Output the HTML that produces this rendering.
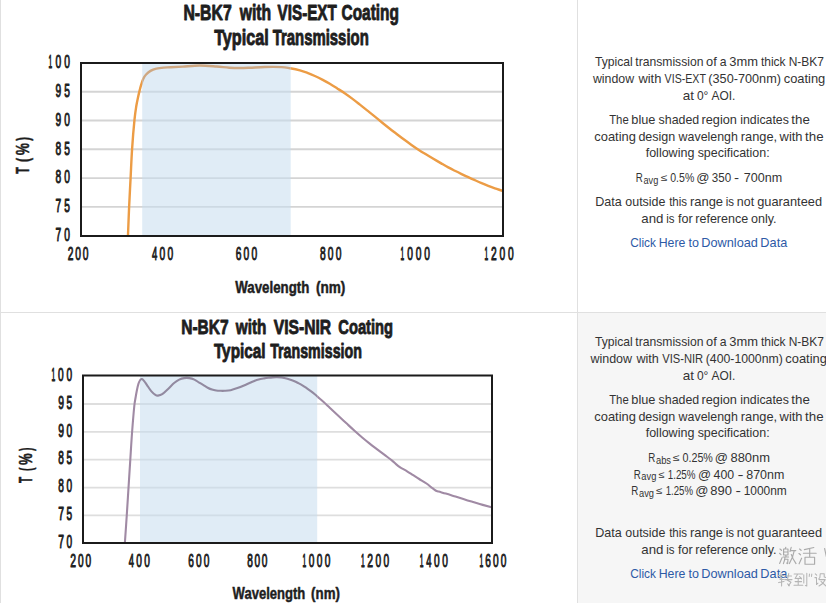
<!DOCTYPE html>
<html><head><meta charset="utf-8"><style>
html,body{margin:0;padding:0;background:#fff;}
body{width:826px;height:603px;overflow:hidden;position:relative;font-family:'Liberation Sans', sans-serif;}
svg{position:absolute;left:0;top:0;display:block;}
svg text{font-family:'Liberation Sans', sans-serif;}
</style></head><body>
<svg width="826" height="603" viewBox="0 0 826 603">
<rect x="578" y="313" width="248" height="290" fill="#f6f6f6"/>
<rect x="0" y="0" width="1" height="603" fill="#e0e0e0"/>
<rect x="577" y="0" width="1" height="603" fill="#e0e0e0"/>
<rect x="0" y="312" width="826" height="1" fill="#e0e0e0"/>
<clipPath id="cl1a"><rect x="81.00" y="63.00" width="61.20" height="173.00"/><rect x="290.70" y="63.00" width="212.30" height="173.00"/></clipPath>
<clipPath id="cl1b"><rect x="142.20" y="63.00" width="148.50" height="173.00"/></clipPath>
<line x1="81.00" x2="503.00" y1="91.70" y2="91.70" stroke="#d4d4d4" stroke-width="1.9"/>
<line x1="81.00" x2="503.00" y1="120.50" y2="120.50" stroke="#d4d4d4" stroke-width="1.9"/>
<line x1="81.00" x2="503.00" y1="149.30" y2="149.30" stroke="#d4d4d4" stroke-width="1.9"/>
<line x1="81.00" x2="503.00" y1="178.10" y2="178.10" stroke="#d4d4d4" stroke-width="1.9"/>
<line x1="81.00" x2="503.00" y1="206.85" y2="206.85" stroke="#d4d4d4" stroke-width="1.9"/>
<rect x="142.20" y="63.00" width="148.50" height="173.00" fill="#c7ddef" fill-opacity="0.55"/>
<path clip-path="url(#cl1a)" d="M127.80 240.00 C127.83 239.17 127.78 240.43 128.00 235.00 C128.22 229.57 128.67 216.92 129.10 207.40 C129.53 197.88 130.10 187.67 130.60 177.90 C131.10 168.13 131.45 158.50 132.10 148.80 C132.75 139.10 133.78 126.92 134.50 119.70 C135.22 112.48 135.80 109.28 136.40 105.50 C137.00 101.72 137.60 99.35 138.10 97.00 C138.60 94.65 138.88 93.45 139.40 91.40 C139.92 89.35 140.57 86.78 141.20 84.70 C141.83 82.62 142.38 80.60 143.20 78.90 C144.02 77.20 144.88 75.83 146.10 74.50 C147.32 73.17 148.80 71.87 150.50 70.90 C152.20 69.93 154.12 69.25 156.30 68.70 C158.48 68.15 161.18 67.83 163.60 67.60 C166.02 67.37 167.62 67.47 170.80 67.30 C173.98 67.13 177.88 66.90 182.70 66.60 C187.52 66.30 194.05 65.52 199.70 65.50 C205.35 65.48 211.67 66.13 216.60 66.50 C221.53 66.87 225.40 67.45 229.30 67.70 C233.20 67.95 236.55 68.00 240.00 68.00 C243.45 68.00 245.88 67.87 250.00 67.70 C254.12 67.53 259.43 67.10 264.70 67.00 C269.97 66.90 277.38 66.88 281.60 67.10 C285.82 67.32 286.95 67.75 290.00 68.30 C293.05 68.85 297.00 69.63 299.90 70.40 C302.80 71.17 304.90 71.97 307.40 72.90 C309.90 73.83 312.42 74.88 314.90 76.00 C317.38 77.12 319.82 78.30 322.30 79.60 C324.78 80.90 327.32 82.33 329.80 83.80 C332.28 85.27 334.72 86.83 337.20 88.40 C339.68 89.97 342.20 91.50 344.70 93.20 C347.20 94.90 349.72 96.73 352.20 98.60 C354.68 100.47 357.12 102.43 359.60 104.40 C362.08 106.37 364.60 108.40 367.10 110.40 C369.60 112.40 372.12 114.38 374.60 116.40 C377.08 118.42 379.52 120.48 382.00 122.50 C384.48 124.52 387.00 126.55 389.50 128.50 C392.00 130.45 394.52 132.32 397.00 134.20 C399.48 136.08 401.98 138.02 404.40 139.80 C406.82 141.58 409.15 143.25 411.50 144.90 C413.85 146.55 416.17 148.17 418.50 149.70 C420.83 151.23 423.17 152.67 425.50 154.10 C427.83 155.53 429.82 156.72 432.50 158.30 C435.18 159.88 438.97 162.08 441.60 163.60 C444.23 165.12 446.08 166.20 448.30 167.40 C450.52 168.60 452.68 169.68 454.90 170.80 C457.12 171.92 459.38 173.03 461.60 174.10 C463.82 175.17 465.98 176.18 468.20 177.20 C470.42 178.22 472.67 179.22 474.90 180.20 C477.13 181.18 479.38 182.17 481.60 183.10 C483.82 184.03 485.98 184.93 488.20 185.80 C490.42 186.67 492.68 187.52 494.90 188.30 C497.12 189.08 499.82 189.93 501.50 190.50 C503.18 191.07 504.42 191.50 505.00 191.70" fill="none" stroke="#ec9c45" stroke-width="2.4" stroke-linejoin="round"/>
<path clip-path="url(#cl1b)" d="M127.80 240.00 C127.83 239.17 127.78 240.43 128.00 235.00 C128.22 229.57 128.67 216.92 129.10 207.40 C129.53 197.88 130.10 187.67 130.60 177.90 C131.10 168.13 131.45 158.50 132.10 148.80 C132.75 139.10 133.78 126.92 134.50 119.70 C135.22 112.48 135.80 109.28 136.40 105.50 C137.00 101.72 137.60 99.35 138.10 97.00 C138.60 94.65 138.88 93.45 139.40 91.40 C139.92 89.35 140.57 86.78 141.20 84.70 C141.83 82.62 142.38 80.60 143.20 78.90 C144.02 77.20 144.88 75.83 146.10 74.50 C147.32 73.17 148.80 71.87 150.50 70.90 C152.20 69.93 154.12 69.25 156.30 68.70 C158.48 68.15 161.18 67.83 163.60 67.60 C166.02 67.37 167.62 67.47 170.80 67.30 C173.98 67.13 177.88 66.90 182.70 66.60 C187.52 66.30 194.05 65.52 199.70 65.50 C205.35 65.48 211.67 66.13 216.60 66.50 C221.53 66.87 225.40 67.45 229.30 67.70 C233.20 67.95 236.55 68.00 240.00 68.00 C243.45 68.00 245.88 67.87 250.00 67.70 C254.12 67.53 259.43 67.10 264.70 67.00 C269.97 66.90 277.38 66.88 281.60 67.10 C285.82 67.32 286.95 67.75 290.00 68.30 C293.05 68.85 297.00 69.63 299.90 70.40 C302.80 71.17 304.90 71.97 307.40 72.90 C309.90 73.83 312.42 74.88 314.90 76.00 C317.38 77.12 319.82 78.30 322.30 79.60 C324.78 80.90 327.32 82.33 329.80 83.80 C332.28 85.27 334.72 86.83 337.20 88.40 C339.68 89.97 342.20 91.50 344.70 93.20 C347.20 94.90 349.72 96.73 352.20 98.60 C354.68 100.47 357.12 102.43 359.60 104.40 C362.08 106.37 364.60 108.40 367.10 110.40 C369.60 112.40 372.12 114.38 374.60 116.40 C377.08 118.42 379.52 120.48 382.00 122.50 C384.48 124.52 387.00 126.55 389.50 128.50 C392.00 130.45 394.52 132.32 397.00 134.20 C399.48 136.08 401.98 138.02 404.40 139.80 C406.82 141.58 409.15 143.25 411.50 144.90 C413.85 146.55 416.17 148.17 418.50 149.70 C420.83 151.23 423.17 152.67 425.50 154.10 C427.83 155.53 429.82 156.72 432.50 158.30 C435.18 159.88 438.97 162.08 441.60 163.60 C444.23 165.12 446.08 166.20 448.30 167.40 C450.52 168.60 452.68 169.68 454.90 170.80 C457.12 171.92 459.38 173.03 461.60 174.10 C463.82 175.17 465.98 176.18 468.20 177.20 C470.42 178.22 472.67 179.22 474.90 180.20 C477.13 181.18 479.38 182.17 481.60 183.10 C483.82 184.03 485.98 184.93 488.20 185.80 C490.42 186.67 492.68 187.52 494.90 188.30 C497.12 189.08 499.82 189.93 501.50 190.50 C503.18 191.07 504.42 191.50 505.00 191.70" fill="none" stroke="#cfa882" stroke-width="2.4" stroke-linejoin="round"/>
<rect x="81.00" y="63.00" width="422.00" height="173.00" fill="none" stroke="#1b1b1b" stroke-width="2"/>
<clipPath id="cl2a"><rect x="83.00" y="375.50" width="57.00" height="167.50"/><rect x="317.20" y="375.50" width="174.80" height="167.50"/></clipPath>
<clipPath id="cl2b"><rect x="140.00" y="375.50" width="177.20" height="167.50"/></clipPath>
<line x1="83.00" x2="492.00" y1="404.00" y2="404.00" stroke="#dedede" stroke-width="1.8"/>
<line x1="83.00" x2="492.00" y1="431.85" y2="431.85" stroke="#dedede" stroke-width="1.8"/>
<line x1="83.00" x2="492.00" y1="459.70" y2="459.70" stroke="#dedede" stroke-width="1.8"/>
<line x1="83.00" x2="492.00" y1="487.55" y2="487.55" stroke="#dedede" stroke-width="1.8"/>
<line x1="83.00" x2="492.00" y1="515.40" y2="515.40" stroke="#dedede" stroke-width="1.8"/>
<rect x="140.00" y="375.50" width="177.20" height="167.50" fill="#c7ddef" fill-opacity="0.55"/>
<path clip-path="url(#cl2a)" d="M124.60 546.00 C124.65 545.42 124.55 547.45 124.90 542.50 C125.25 537.55 126.10 525.40 126.70 516.30 C127.30 507.20 127.90 497.35 128.50 487.90 C129.10 478.45 129.70 468.92 130.30 459.60 C130.90 450.28 131.43 440.93 132.10 432.00 C132.77 423.07 133.72 411.75 134.30 406.00 C134.88 400.25 135.17 400.13 135.60 397.50 C136.03 394.87 136.42 392.52 136.90 390.20 C137.38 387.88 137.95 385.30 138.50 383.60 C139.05 381.90 139.63 380.77 140.20 380.00 C140.77 379.23 141.20 378.78 141.90 379.00 C142.60 379.22 143.55 380.28 144.40 381.30 C145.25 382.32 145.87 383.47 147.00 385.10 C148.13 386.73 149.80 389.47 151.20 391.10 C152.60 392.73 154.27 394.15 155.40 394.90 C156.53 395.65 156.87 395.72 158.00 395.60 C159.13 395.48 160.52 395.32 162.20 394.20 C163.88 393.08 166.12 390.77 168.10 388.90 C170.08 387.03 172.25 384.55 174.10 383.00 C175.95 381.45 177.52 380.42 179.20 379.60 C180.88 378.78 182.52 378.35 184.20 378.10 C185.88 377.85 187.60 377.85 189.30 378.10 C191.00 378.35 192.75 378.85 194.40 379.60 C196.05 380.35 197.68 381.68 199.20 382.60 C200.72 383.52 202.08 384.25 203.50 385.10 C204.92 385.95 206.28 386.95 207.70 387.70 C209.12 388.45 210.58 389.13 212.00 389.60 C213.42 390.07 214.80 390.30 216.20 390.50 C217.60 390.70 218.98 390.75 220.40 390.80 C221.82 390.85 223.00 390.90 224.70 390.80 C226.40 390.70 228.48 390.65 230.60 390.20 C232.72 389.75 234.87 389.02 237.40 388.10 C239.93 387.18 242.98 385.90 245.80 384.70 C248.62 383.50 251.85 381.83 254.30 380.90 C256.75 379.97 258.85 379.52 260.50 379.10 C262.15 378.68 262.87 378.62 264.20 378.40 C265.53 378.18 267.08 377.97 268.50 377.80 C269.92 377.63 271.30 377.48 272.70 377.40 C274.10 377.32 275.48 377.28 276.90 377.30 C278.32 377.32 279.78 377.33 281.20 377.50 C282.62 377.67 283.98 377.97 285.40 378.30 C286.82 378.63 288.28 379.05 289.70 379.50 C291.12 379.95 292.50 380.42 293.90 381.00 C295.30 381.58 296.68 382.28 298.10 383.00 C299.52 383.72 300.98 384.45 302.40 385.30 C303.82 386.15 305.20 387.13 306.60 388.10 C308.00 389.07 309.38 390.03 310.80 391.10 C312.22 392.17 313.68 393.30 315.10 394.50 C316.52 395.70 317.78 396.97 319.30 398.30 C320.82 399.63 322.67 401.12 324.20 402.50 C325.73 403.88 327.13 405.30 328.50 406.60 C329.87 407.90 330.50 408.53 332.40 410.30 C334.30 412.07 337.42 414.90 339.90 417.20 C342.38 419.50 344.82 421.80 347.30 424.10 C349.78 426.40 352.32 428.77 354.80 431.00 C357.28 433.23 359.72 435.40 362.20 437.50 C364.68 439.60 367.20 441.63 369.70 443.60 C372.20 445.57 374.72 447.42 377.20 449.30 C379.68 451.18 382.12 453.02 384.60 454.90 C387.08 456.78 390.20 459.07 392.10 460.60 C394.00 462.13 394.72 463.02 396.00 464.10 C397.28 465.18 398.75 466.35 399.80 467.10 C400.85 467.85 401.08 467.90 402.30 468.60 C403.52 469.30 405.28 470.20 407.10 471.30 C408.92 472.40 411.18 473.92 413.20 475.20 C415.22 476.48 416.98 477.62 419.20 479.00 C421.42 480.38 424.48 482.12 426.50 483.50 C428.52 484.88 429.78 486.13 431.30 487.30 C432.82 488.47 434.38 489.78 435.60 490.50 C436.82 491.22 436.90 491.08 438.60 491.60 C440.30 492.12 442.98 492.77 445.80 493.60 C448.62 494.43 451.87 495.47 455.50 496.60 C459.13 497.73 463.57 499.17 467.60 500.40 C471.63 501.63 475.87 502.88 479.70 504.00 C483.53 505.12 488.05 506.38 490.60 507.10 C493.15 507.82 494.27 508.10 495.00 508.30" fill="none" stroke="#a08aa4" stroke-width="2.1" stroke-linejoin="round"/>
<path clip-path="url(#cl2b)" d="M124.60 546.00 C124.65 545.42 124.55 547.45 124.90 542.50 C125.25 537.55 126.10 525.40 126.70 516.30 C127.30 507.20 127.90 497.35 128.50 487.90 C129.10 478.45 129.70 468.92 130.30 459.60 C130.90 450.28 131.43 440.93 132.10 432.00 C132.77 423.07 133.72 411.75 134.30 406.00 C134.88 400.25 135.17 400.13 135.60 397.50 C136.03 394.87 136.42 392.52 136.90 390.20 C137.38 387.88 137.95 385.30 138.50 383.60 C139.05 381.90 139.63 380.77 140.20 380.00 C140.77 379.23 141.20 378.78 141.90 379.00 C142.60 379.22 143.55 380.28 144.40 381.30 C145.25 382.32 145.87 383.47 147.00 385.10 C148.13 386.73 149.80 389.47 151.20 391.10 C152.60 392.73 154.27 394.15 155.40 394.90 C156.53 395.65 156.87 395.72 158.00 395.60 C159.13 395.48 160.52 395.32 162.20 394.20 C163.88 393.08 166.12 390.77 168.10 388.90 C170.08 387.03 172.25 384.55 174.10 383.00 C175.95 381.45 177.52 380.42 179.20 379.60 C180.88 378.78 182.52 378.35 184.20 378.10 C185.88 377.85 187.60 377.85 189.30 378.10 C191.00 378.35 192.75 378.85 194.40 379.60 C196.05 380.35 197.68 381.68 199.20 382.60 C200.72 383.52 202.08 384.25 203.50 385.10 C204.92 385.95 206.28 386.95 207.70 387.70 C209.12 388.45 210.58 389.13 212.00 389.60 C213.42 390.07 214.80 390.30 216.20 390.50 C217.60 390.70 218.98 390.75 220.40 390.80 C221.82 390.85 223.00 390.90 224.70 390.80 C226.40 390.70 228.48 390.65 230.60 390.20 C232.72 389.75 234.87 389.02 237.40 388.10 C239.93 387.18 242.98 385.90 245.80 384.70 C248.62 383.50 251.85 381.83 254.30 380.90 C256.75 379.97 258.85 379.52 260.50 379.10 C262.15 378.68 262.87 378.62 264.20 378.40 C265.53 378.18 267.08 377.97 268.50 377.80 C269.92 377.63 271.30 377.48 272.70 377.40 C274.10 377.32 275.48 377.28 276.90 377.30 C278.32 377.32 279.78 377.33 281.20 377.50 C282.62 377.67 283.98 377.97 285.40 378.30 C286.82 378.63 288.28 379.05 289.70 379.50 C291.12 379.95 292.50 380.42 293.90 381.00 C295.30 381.58 296.68 382.28 298.10 383.00 C299.52 383.72 300.98 384.45 302.40 385.30 C303.82 386.15 305.20 387.13 306.60 388.10 C308.00 389.07 309.38 390.03 310.80 391.10 C312.22 392.17 313.68 393.30 315.10 394.50 C316.52 395.70 317.78 396.97 319.30 398.30 C320.82 399.63 322.67 401.12 324.20 402.50 C325.73 403.88 327.13 405.30 328.50 406.60 C329.87 407.90 330.50 408.53 332.40 410.30 C334.30 412.07 337.42 414.90 339.90 417.20 C342.38 419.50 344.82 421.80 347.30 424.10 C349.78 426.40 352.32 428.77 354.80 431.00 C357.28 433.23 359.72 435.40 362.20 437.50 C364.68 439.60 367.20 441.63 369.70 443.60 C372.20 445.57 374.72 447.42 377.20 449.30 C379.68 451.18 382.12 453.02 384.60 454.90 C387.08 456.78 390.20 459.07 392.10 460.60 C394.00 462.13 394.72 463.02 396.00 464.10 C397.28 465.18 398.75 466.35 399.80 467.10 C400.85 467.85 401.08 467.90 402.30 468.60 C403.52 469.30 405.28 470.20 407.10 471.30 C408.92 472.40 411.18 473.92 413.20 475.20 C415.22 476.48 416.98 477.62 419.20 479.00 C421.42 480.38 424.48 482.12 426.50 483.50 C428.52 484.88 429.78 486.13 431.30 487.30 C432.82 488.47 434.38 489.78 435.60 490.50 C436.82 491.22 436.90 491.08 438.60 491.60 C440.30 492.12 442.98 492.77 445.80 493.60 C448.62 494.43 451.87 495.47 455.50 496.60 C459.13 497.73 463.57 499.17 467.60 500.40 C471.63 501.63 475.87 502.88 479.70 504.00 C483.53 505.12 488.05 506.38 490.60 507.10 C493.15 507.82 494.27 508.10 495.00 508.30" fill="none" stroke="#928aa0" stroke-width="2.1" stroke-linejoin="round"/>
<rect x="83.00" y="375.50" width="409.00" height="167.50" fill="none" stroke="#1b1b1b" stroke-width="2"/>
<text x="183.47" y="19.80" font-size="21.6" font-weight="bold" fill="#1e1e1e" stroke="#1e1e1e" stroke-width="0.9" stroke-linejoin="round" textLength="48.18" lengthAdjust="spacingAndGlyphs">N-BK7</text>
<text x="239.66" y="19.80" font-size="21.6" font-weight="bold" fill="#1e1e1e" stroke="#1e1e1e" stroke-width="0.9" stroke-linejoin="round" textLength="31.52" lengthAdjust="spacingAndGlyphs">with</text>
<text x="277.58" y="19.80" font-size="21.6" font-weight="bold" fill="#1e1e1e" stroke="#1e1e1e" stroke-width="0.9" stroke-linejoin="round" textLength="59.25" lengthAdjust="spacingAndGlyphs">VIS-EXT</text>
<text x="341.54" y="19.80" font-size="21.6" font-weight="bold" fill="#1e1e1e" stroke="#1e1e1e" stroke-width="0.9" stroke-linejoin="round" textLength="57.38" lengthAdjust="spacingAndGlyphs">Coating</text>
<text x="214.19" y="44.90" font-size="21.6" font-weight="bold" fill="#1e1e1e" stroke="#1e1e1e" stroke-width="0.9" stroke-linejoin="round" textLength="54.51" lengthAdjust="spacingAndGlyphs">Typical</text>
<text x="272.67" y="44.90" font-size="21.6" font-weight="bold" fill="#1e1e1e" stroke="#1e1e1e" stroke-width="0.9" stroke-linejoin="round" textLength="96.10" lengthAdjust="spacingAndGlyphs">Transmission</text>
<text x="181.26" y="333.80" font-size="21.0" font-weight="bold" fill="#1e1e1e" stroke="#1e1e1e" stroke-width="0.9" stroke-linejoin="round" textLength="47.35" lengthAdjust="spacingAndGlyphs">N-BK7</text>
<text x="235.86" y="333.80" font-size="21.0" font-weight="bold" fill="#1e1e1e" stroke="#1e1e1e" stroke-width="0.9" stroke-linejoin="round" textLength="30.58" lengthAdjust="spacingAndGlyphs">with</text>
<text x="273.69" y="333.80" font-size="21.0" font-weight="bold" fill="#1e1e1e" stroke="#1e1e1e" stroke-width="0.9" stroke-linejoin="round" textLength="57.43" lengthAdjust="spacingAndGlyphs">VIS-NIR</text>
<text x="338.32" y="333.80" font-size="21.0" font-weight="bold" fill="#1e1e1e" stroke="#1e1e1e" stroke-width="0.9" stroke-linejoin="round" textLength="54.71" lengthAdjust="spacingAndGlyphs">Coating</text>
<text x="213.88" y="358.30" font-size="21.0" font-weight="bold" fill="#1e1e1e" stroke="#1e1e1e" stroke-width="0.9" stroke-linejoin="round" textLength="51.69" lengthAdjust="spacingAndGlyphs">Typical</text>
<text x="270.17" y="358.30" font-size="21.0" font-weight="bold" fill="#1e1e1e" stroke="#1e1e1e" stroke-width="0.9" stroke-linejoin="round" textLength="91.73" lengthAdjust="spacingAndGlyphs">Transmission</text>
<text x="235.30" y="293.15" font-size="16.8" font-weight="bold" fill="#1e1e1e" stroke="#1e1e1e" stroke-width="0.5" stroke-linejoin="round" textLength="74.05" lengthAdjust="spacingAndGlyphs">Wavelength</text>
<text x="315.89" y="293.15" font-size="16.8" font-weight="bold" fill="#1e1e1e" stroke="#1e1e1e" stroke-width="0.5" stroke-linejoin="round" textLength="29.50" lengthAdjust="spacingAndGlyphs">(nm)</text>
<text x="232.59" y="599.15" font-size="17.0" font-weight="bold" fill="#1e1e1e" stroke="#1e1e1e" stroke-width="0.5" stroke-linejoin="round" textLength="72.71" lengthAdjust="spacingAndGlyphs">Wavelength</text>
<text x="311.11" y="599.15" font-size="17.0" font-weight="bold" fill="#1e1e1e" stroke="#1e1e1e" stroke-width="0.5" stroke-linejoin="round" textLength="28.84" lengthAdjust="spacingAndGlyphs">(nm)</text>
<text x="-173.80" y="0.00" font-size="18.0" font-weight="bold" fill="#1e1e1e" stroke="#1e1e1e" stroke-width="0.5" stroke-linejoin="round" textLength="6.70" lengthAdjust="spacingAndGlyphs" transform="translate(28.65,0.00) rotate(-90)">T</text>
<text x="-161.94" y="0.00" font-size="18.0" font-weight="bold" fill="#1e1e1e" stroke="#1e1e1e" stroke-width="0.5" stroke-linejoin="round" textLength="4.07" lengthAdjust="spacingAndGlyphs" transform="translate(28.65,0.00) rotate(-90)">(</text>
<text x="-155.29" y="0.00" font-size="18.0" font-weight="bold" fill="#1e1e1e" stroke="#1e1e1e" stroke-width="0.5" stroke-linejoin="round" textLength="12.19" lengthAdjust="spacingAndGlyphs" transform="translate(28.65,0.00) rotate(-90)">%</text>
<text x="-140.84" y="0.00" font-size="18.0" font-weight="bold" fill="#1e1e1e" stroke="#1e1e1e" stroke-width="0.5" stroke-linejoin="round" textLength="3.76" lengthAdjust="spacingAndGlyphs" transform="translate(28.65,0.00) rotate(-90)">)</text>
<text x="-483.10" y="0.00" font-size="17.5" font-weight="bold" fill="#1e1e1e" stroke="#1e1e1e" stroke-width="0.5" stroke-linejoin="round" textLength="6.17" lengthAdjust="spacingAndGlyphs" transform="translate(32.45,0.00) rotate(-90)">T</text>
<text x="-471.00" y="0.00" font-size="17.5" font-weight="bold" fill="#1e1e1e" stroke="#1e1e1e" stroke-width="0.5" stroke-linejoin="round" textLength="3.50" lengthAdjust="spacingAndGlyphs" transform="translate(32.45,0.00) rotate(-90)">(</text>
<text x="-464.90" y="0.00" font-size="17.5" font-weight="bold" fill="#1e1e1e" stroke="#1e1e1e" stroke-width="0.5" stroke-linejoin="round" textLength="11.65" lengthAdjust="spacingAndGlyphs" transform="translate(32.45,0.00) rotate(-90)">%</text>
<text x="-451.05" y="0.00" font-size="17.5" font-weight="bold" fill="#1e1e1e" stroke="#1e1e1e" stroke-width="0.5" stroke-linejoin="round" textLength="3.50" lengthAdjust="spacingAndGlyphs" transform="translate(32.45,0.00) rotate(-90)">)</text>
<text x="48.52" y="68.40" font-size="18" font-weight="normal" fill="#222" stroke="#222" stroke-width="1.0" stroke-linejoin="round" textLength="3.67" lengthAdjust="spacingAndGlyphs">1</text>
<text x="55.46" y="68.40" font-size="18" font-weight="normal" fill="#222" stroke="#222" stroke-width="1.0" stroke-linejoin="round" textLength="5.69" lengthAdjust="spacingAndGlyphs">0</text>
<text x="64.36" y="68.40" font-size="18" font-weight="normal" fill="#222" stroke="#222" stroke-width="1.0" stroke-linejoin="round" textLength="5.69" lengthAdjust="spacingAndGlyphs">0</text>
<text x="55.46" y="97.10" font-size="18" font-weight="normal" fill="#222" stroke="#222" stroke-width="1.0" stroke-linejoin="round" textLength="5.69" lengthAdjust="spacingAndGlyphs">9</text>
<text x="64.26" y="97.10" font-size="18" font-weight="normal" fill="#222" stroke="#222" stroke-width="1.0" stroke-linejoin="round" textLength="5.69" lengthAdjust="spacingAndGlyphs">5</text>
<text x="55.46" y="125.80" font-size="18" font-weight="normal" fill="#222" stroke="#222" stroke-width="1.0" stroke-linejoin="round" textLength="5.69" lengthAdjust="spacingAndGlyphs">9</text>
<text x="64.26" y="125.80" font-size="18" font-weight="normal" fill="#222" stroke="#222" stroke-width="1.0" stroke-linejoin="round" textLength="5.69" lengthAdjust="spacingAndGlyphs">0</text>
<text x="55.46" y="154.50" font-size="18" font-weight="normal" fill="#222" stroke="#222" stroke-width="1.0" stroke-linejoin="round" textLength="5.69" lengthAdjust="spacingAndGlyphs">8</text>
<text x="64.26" y="154.50" font-size="18" font-weight="normal" fill="#222" stroke="#222" stroke-width="1.0" stroke-linejoin="round" textLength="5.69" lengthAdjust="spacingAndGlyphs">5</text>
<text x="55.46" y="183.20" font-size="18" font-weight="normal" fill="#222" stroke="#222" stroke-width="1.0" stroke-linejoin="round" textLength="5.69" lengthAdjust="spacingAndGlyphs">8</text>
<text x="64.26" y="183.20" font-size="18" font-weight="normal" fill="#222" stroke="#222" stroke-width="1.0" stroke-linejoin="round" textLength="5.69" lengthAdjust="spacingAndGlyphs">0</text>
<text x="55.46" y="211.90" font-size="18" font-weight="normal" fill="#222" stroke="#222" stroke-width="1.0" stroke-linejoin="round" textLength="5.69" lengthAdjust="spacingAndGlyphs">7</text>
<text x="64.26" y="211.90" font-size="18" font-weight="normal" fill="#222" stroke="#222" stroke-width="1.0" stroke-linejoin="round" textLength="5.69" lengthAdjust="spacingAndGlyphs">5</text>
<text x="55.46" y="240.60" font-size="18" font-weight="normal" fill="#222" stroke="#222" stroke-width="1.0" stroke-linejoin="round" textLength="5.69" lengthAdjust="spacingAndGlyphs">7</text>
<text x="64.26" y="240.60" font-size="18" font-weight="normal" fill="#222" stroke="#222" stroke-width="1.0" stroke-linejoin="round" textLength="5.69" lengthAdjust="spacingAndGlyphs">0</text>
<text x="51.52" y="381.00" font-size="17.8" font-weight="normal" fill="#222" stroke="#222" stroke-width="1.0" stroke-linejoin="round" textLength="3.73" lengthAdjust="spacingAndGlyphs">1</text>
<text x="58.01" y="381.00" font-size="17.8" font-weight="normal" fill="#222" stroke="#222" stroke-width="1.0" stroke-linejoin="round" textLength="5.62" lengthAdjust="spacingAndGlyphs">0</text>
<text x="66.46" y="381.00" font-size="17.8" font-weight="normal" fill="#222" stroke="#222" stroke-width="1.0" stroke-linejoin="round" textLength="5.62" lengthAdjust="spacingAndGlyphs">0</text>
<text x="58.15" y="408.77" font-size="17.8" font-weight="normal" fill="#222" stroke="#222" stroke-width="1.0" stroke-linejoin="round" textLength="5.77" lengthAdjust="spacingAndGlyphs">9</text>
<text x="66.46" y="408.77" font-size="17.8" font-weight="normal" fill="#222" stroke="#222" stroke-width="1.0" stroke-linejoin="round" textLength="5.62" lengthAdjust="spacingAndGlyphs">5</text>
<text x="58.15" y="436.54" font-size="17.8" font-weight="normal" fill="#222" stroke="#222" stroke-width="1.0" stroke-linejoin="round" textLength="5.77" lengthAdjust="spacingAndGlyphs">9</text>
<text x="66.46" y="436.54" font-size="17.8" font-weight="normal" fill="#222" stroke="#222" stroke-width="1.0" stroke-linejoin="round" textLength="5.62" lengthAdjust="spacingAndGlyphs">0</text>
<text x="58.16" y="464.31" font-size="17.8" font-weight="normal" fill="#222" stroke="#222" stroke-width="1.0" stroke-linejoin="round" textLength="5.62" lengthAdjust="spacingAndGlyphs">8</text>
<text x="66.46" y="464.31" font-size="17.8" font-weight="normal" fill="#222" stroke="#222" stroke-width="1.0" stroke-linejoin="round" textLength="5.62" lengthAdjust="spacingAndGlyphs">5</text>
<text x="58.16" y="492.08" font-size="17.8" font-weight="normal" fill="#222" stroke="#222" stroke-width="1.0" stroke-linejoin="round" textLength="5.62" lengthAdjust="spacingAndGlyphs">8</text>
<text x="66.46" y="492.08" font-size="17.8" font-weight="normal" fill="#222" stroke="#222" stroke-width="1.0" stroke-linejoin="round" textLength="5.62" lengthAdjust="spacingAndGlyphs">0</text>
<text x="58.15" y="519.85" font-size="17.8" font-weight="normal" fill="#222" stroke="#222" stroke-width="1.0" stroke-linejoin="round" textLength="5.77" lengthAdjust="spacingAndGlyphs">7</text>
<text x="66.46" y="519.85" font-size="17.8" font-weight="normal" fill="#222" stroke="#222" stroke-width="1.0" stroke-linejoin="round" textLength="5.62" lengthAdjust="spacingAndGlyphs">5</text>
<text x="58.15" y="547.62" font-size="17.8" font-weight="normal" fill="#222" stroke="#222" stroke-width="1.0" stroke-linejoin="round" textLength="5.77" lengthAdjust="spacingAndGlyphs">7</text>
<text x="66.46" y="547.62" font-size="17.8" font-weight="normal" fill="#222" stroke="#222" stroke-width="1.0" stroke-linejoin="round" textLength="5.62" lengthAdjust="spacingAndGlyphs">0</text>
<text x="67.86" y="259.90" font-size="18" font-weight="normal" fill="#222" stroke="#222" stroke-width="1.0" stroke-linejoin="round" textLength="5.69" lengthAdjust="spacingAndGlyphs">2</text>
<text x="75.31" y="259.90" font-size="18" font-weight="normal" fill="#222" stroke="#222" stroke-width="1.0" stroke-linejoin="round" textLength="5.69" lengthAdjust="spacingAndGlyphs">0</text>
<text x="82.76" y="259.90" font-size="18" font-weight="normal" fill="#222" stroke="#222" stroke-width="1.0" stroke-linejoin="round" textLength="5.69" lengthAdjust="spacingAndGlyphs">0</text>
<text x="151.93" y="259.90" font-size="18" font-weight="normal" fill="#222" stroke="#222" stroke-width="1.0" stroke-linejoin="round" textLength="5.28" lengthAdjust="spacingAndGlyphs">4</text>
<text x="159.56" y="259.90" font-size="18" font-weight="normal" fill="#222" stroke="#222" stroke-width="1.0" stroke-linejoin="round" textLength="5.69" lengthAdjust="spacingAndGlyphs">0</text>
<text x="167.46" y="259.90" font-size="18" font-weight="normal" fill="#222" stroke="#222" stroke-width="1.0" stroke-linejoin="round" textLength="5.69" lengthAdjust="spacingAndGlyphs">0</text>
<text x="235.76" y="259.90" font-size="18" font-weight="normal" fill="#222" stroke="#222" stroke-width="1.0" stroke-linejoin="round" textLength="5.69" lengthAdjust="spacingAndGlyphs">6</text>
<text x="243.61" y="259.90" font-size="18" font-weight="normal" fill="#222" stroke="#222" stroke-width="1.0" stroke-linejoin="round" textLength="5.69" lengthAdjust="spacingAndGlyphs">0</text>
<text x="251.46" y="259.90" font-size="18" font-weight="normal" fill="#222" stroke="#222" stroke-width="1.0" stroke-linejoin="round" textLength="5.69" lengthAdjust="spacingAndGlyphs">0</text>
<text x="320.06" y="259.90" font-size="18" font-weight="normal" fill="#222" stroke="#222" stroke-width="1.0" stroke-linejoin="round" textLength="5.69" lengthAdjust="spacingAndGlyphs">8</text>
<text x="327.86" y="259.90" font-size="18" font-weight="normal" fill="#222" stroke="#222" stroke-width="1.0" stroke-linejoin="round" textLength="5.69" lengthAdjust="spacingAndGlyphs">0</text>
<text x="335.66" y="259.90" font-size="18" font-weight="normal" fill="#222" stroke="#222" stroke-width="1.0" stroke-linejoin="round" textLength="5.69" lengthAdjust="spacingAndGlyphs">0</text>
<text x="400.62" y="259.90" font-size="18" font-weight="normal" fill="#222" stroke="#222" stroke-width="1.0" stroke-linejoin="round" textLength="3.67" lengthAdjust="spacingAndGlyphs">1</text>
<text x="407.19" y="259.90" font-size="18" font-weight="normal" fill="#222" stroke="#222" stroke-width="1.0" stroke-linejoin="round" textLength="5.69" lengthAdjust="spacingAndGlyphs">0</text>
<text x="415.72" y="259.90" font-size="18" font-weight="normal" fill="#222" stroke="#222" stroke-width="1.0" stroke-linejoin="round" textLength="5.69" lengthAdjust="spacingAndGlyphs">0</text>
<text x="424.26" y="259.90" font-size="18" font-weight="normal" fill="#222" stroke="#222" stroke-width="1.0" stroke-linejoin="round" textLength="5.69" lengthAdjust="spacingAndGlyphs">0</text>
<text x="484.62" y="259.90" font-size="18" font-weight="normal" fill="#222" stroke="#222" stroke-width="1.0" stroke-linejoin="round" textLength="3.67" lengthAdjust="spacingAndGlyphs">1</text>
<text x="491.12" y="259.90" font-size="18" font-weight="normal" fill="#222" stroke="#222" stroke-width="1.0" stroke-linejoin="round" textLength="5.69" lengthAdjust="spacingAndGlyphs">2</text>
<text x="499.59" y="259.90" font-size="18" font-weight="normal" fill="#222" stroke="#222" stroke-width="1.0" stroke-linejoin="round" textLength="5.69" lengthAdjust="spacingAndGlyphs">0</text>
<text x="508.06" y="259.90" font-size="18" font-weight="normal" fill="#222" stroke="#222" stroke-width="1.0" stroke-linejoin="round" textLength="5.69" lengthAdjust="spacingAndGlyphs">0</text>
<text x="70.35" y="567.10" font-size="17.8" font-weight="normal" fill="#222" stroke="#222" stroke-width="1.0" stroke-linejoin="round" textLength="5.77" lengthAdjust="spacingAndGlyphs">2</text>
<text x="77.91" y="567.10" font-size="17.8" font-weight="normal" fill="#222" stroke="#222" stroke-width="1.0" stroke-linejoin="round" textLength="5.62" lengthAdjust="spacingAndGlyphs">0</text>
<text x="85.46" y="567.10" font-size="17.8" font-weight="normal" fill="#222" stroke="#222" stroke-width="1.0" stroke-linejoin="round" textLength="5.62" lengthAdjust="spacingAndGlyphs">0</text>
<text x="128.73" y="567.10" font-size="17.8" font-weight="normal" fill="#222" stroke="#222" stroke-width="1.0" stroke-linejoin="round" textLength="5.21" lengthAdjust="spacingAndGlyphs">4</text>
<text x="136.36" y="567.10" font-size="17.8" font-weight="normal" fill="#222" stroke="#222" stroke-width="1.0" stroke-linejoin="round" textLength="5.62" lengthAdjust="spacingAndGlyphs">0</text>
<text x="144.26" y="567.10" font-size="17.8" font-weight="normal" fill="#222" stroke="#222" stroke-width="1.0" stroke-linejoin="round" textLength="5.62" lengthAdjust="spacingAndGlyphs">0</text>
<text x="188.36" y="567.10" font-size="17.8" font-weight="normal" fill="#222" stroke="#222" stroke-width="1.0" stroke-linejoin="round" textLength="5.62" lengthAdjust="spacingAndGlyphs">6</text>
<text x="196.01" y="567.10" font-size="17.8" font-weight="normal" fill="#222" stroke="#222" stroke-width="1.0" stroke-linejoin="round" textLength="5.62" lengthAdjust="spacingAndGlyphs">0</text>
<text x="203.66" y="567.10" font-size="17.8" font-weight="normal" fill="#222" stroke="#222" stroke-width="1.0" stroke-linejoin="round" textLength="5.62" lengthAdjust="spacingAndGlyphs">0</text>
<text x="247.26" y="567.10" font-size="17.8" font-weight="normal" fill="#222" stroke="#222" stroke-width="1.0" stroke-linejoin="round" textLength="5.62" lengthAdjust="spacingAndGlyphs">8</text>
<text x="254.56" y="567.10" font-size="17.8" font-weight="normal" fill="#222" stroke="#222" stroke-width="1.0" stroke-linejoin="round" textLength="5.62" lengthAdjust="spacingAndGlyphs">0</text>
<text x="261.86" y="567.10" font-size="17.8" font-weight="normal" fill="#222" stroke="#222" stroke-width="1.0" stroke-linejoin="round" textLength="5.62" lengthAdjust="spacingAndGlyphs">0</text>
<text x="302.62" y="567.10" font-size="17.8" font-weight="normal" fill="#222" stroke="#222" stroke-width="1.0" stroke-linejoin="round" textLength="3.73" lengthAdjust="spacingAndGlyphs">1</text>
<text x="308.66" y="567.10" font-size="17.8" font-weight="normal" fill="#222" stroke="#222" stroke-width="1.0" stroke-linejoin="round" textLength="5.62" lengthAdjust="spacingAndGlyphs">0</text>
<text x="316.66" y="567.10" font-size="17.8" font-weight="normal" fill="#222" stroke="#222" stroke-width="1.0" stroke-linejoin="round" textLength="5.62" lengthAdjust="spacingAndGlyphs">0</text>
<text x="324.66" y="567.10" font-size="17.8" font-weight="normal" fill="#222" stroke="#222" stroke-width="1.0" stroke-linejoin="round" textLength="5.62" lengthAdjust="spacingAndGlyphs">0</text>
<text x="361.02" y="567.10" font-size="17.8" font-weight="normal" fill="#222" stroke="#222" stroke-width="1.0" stroke-linejoin="round" textLength="3.73" lengthAdjust="spacingAndGlyphs">1</text>
<text x="367.22" y="567.10" font-size="17.8" font-weight="normal" fill="#222" stroke="#222" stroke-width="1.0" stroke-linejoin="round" textLength="5.77" lengthAdjust="spacingAndGlyphs">2</text>
<text x="375.39" y="567.10" font-size="17.8" font-weight="normal" fill="#222" stroke="#222" stroke-width="1.0" stroke-linejoin="round" textLength="5.62" lengthAdjust="spacingAndGlyphs">0</text>
<text x="383.56" y="567.10" font-size="17.8" font-weight="normal" fill="#222" stroke="#222" stroke-width="1.0" stroke-linejoin="round" textLength="5.62" lengthAdjust="spacingAndGlyphs">0</text>
<text x="419.72" y="567.10" font-size="17.8" font-weight="normal" fill="#222" stroke="#222" stroke-width="1.0" stroke-linejoin="round" textLength="3.73" lengthAdjust="spacingAndGlyphs">1</text>
<text x="426.20" y="567.10" font-size="17.8" font-weight="normal" fill="#222" stroke="#222" stroke-width="1.0" stroke-linejoin="round" textLength="5.21" lengthAdjust="spacingAndGlyphs">4</text>
<text x="434.09" y="567.10" font-size="17.8" font-weight="normal" fill="#222" stroke="#222" stroke-width="1.0" stroke-linejoin="round" textLength="5.62" lengthAdjust="spacingAndGlyphs">0</text>
<text x="442.26" y="567.10" font-size="17.8" font-weight="normal" fill="#222" stroke="#222" stroke-width="1.0" stroke-linejoin="round" textLength="5.62" lengthAdjust="spacingAndGlyphs">0</text>
<text x="479.42" y="567.10" font-size="17.8" font-weight="normal" fill="#222" stroke="#222" stroke-width="1.0" stroke-linejoin="round" textLength="3.73" lengthAdjust="spacingAndGlyphs">1</text>
<text x="485.26" y="567.10" font-size="17.8" font-weight="normal" fill="#222" stroke="#222" stroke-width="1.0" stroke-linejoin="round" textLength="5.62" lengthAdjust="spacingAndGlyphs">6</text>
<text x="493.06" y="567.10" font-size="17.8" font-weight="normal" fill="#222" stroke="#222" stroke-width="1.0" stroke-linejoin="round" textLength="5.62" lengthAdjust="spacingAndGlyphs">0</text>
<text x="500.86" y="567.10" font-size="17.8" font-weight="normal" fill="#222" stroke="#222" stroke-width="1.0" stroke-linejoin="round" textLength="5.62" lengthAdjust="spacingAndGlyphs">0</text>
<text x="595.06" y="65.70" font-size="12.6" font-weight="normal" fill="#333" textLength="37.72" lengthAdjust="spacingAndGlyphs">Typical</text>
<text x="635.26" y="65.70" font-size="12.6" font-weight="normal" fill="#333" textLength="68.20" lengthAdjust="spacingAndGlyphs">transmission</text>
<text x="706.09" y="65.70" font-size="12.6" font-weight="normal" fill="#333" textLength="10.73" lengthAdjust="spacingAndGlyphs">of</text>
<text x="719.72" y="65.70" font-size="12.6" font-weight="normal" fill="#333" textLength="6.80" lengthAdjust="spacingAndGlyphs">a</text>
<text x="729.39" y="65.70" font-size="12.6" font-weight="normal" fill="#333" textLength="28.68" lengthAdjust="spacingAndGlyphs">3mm</text>
<text x="760.96" y="65.70" font-size="12.6" font-weight="normal" fill="#333" textLength="24.65" lengthAdjust="spacingAndGlyphs">thick</text>
<text x="788.65" y="65.70" font-size="12.6" font-weight="normal" fill="#333" textLength="35.32" lengthAdjust="spacingAndGlyphs">N-BK7</text>
<text x="592.90" y="82.70" font-size="12.6" font-weight="normal" fill="#333" textLength="41.20" lengthAdjust="spacingAndGlyphs">window</text>
<text x="638.40" y="82.70" font-size="12.6" font-weight="normal" fill="#333" textLength="22.97" lengthAdjust="spacingAndGlyphs">with</text>
<text x="664.60" y="82.70" font-size="12.6" font-weight="normal" fill="#333" textLength="41.31" lengthAdjust="spacingAndGlyphs">VIS-EXT</text>
<text x="708.35" y="82.70" font-size="12.6" font-weight="normal" fill="#333" textLength="72.57" lengthAdjust="spacingAndGlyphs">(350-700nm)</text>
<text x="783.69" y="82.70" font-size="12.6" font-weight="normal" fill="#333" textLength="41.61" lengthAdjust="spacingAndGlyphs">coating</text>
<text x="682.87" y="99.60" font-size="12.6" font-weight="normal" fill="#333" textLength="11.25" lengthAdjust="spacingAndGlyphs">at</text>
<text x="696.93" y="99.60" font-size="12.6" font-weight="normal" fill="#333" textLength="11.43" lengthAdjust="spacingAndGlyphs">0°</text>
<text x="711.50" y="99.60" font-size="12.6" font-weight="normal" fill="#333" textLength="23.84" lengthAdjust="spacingAndGlyphs">AOI.</text>
<text x="609.17" y="123.60" font-size="12.6" font-weight="normal" fill="#333" textLength="19.53" lengthAdjust="spacingAndGlyphs">The</text>
<text x="631.34" y="123.60" font-size="12.6" font-weight="normal" fill="#333" textLength="24.13" lengthAdjust="spacingAndGlyphs">blue</text>
<text x="658.55" y="123.60" font-size="12.6" font-weight="normal" fill="#333" textLength="40.66" lengthAdjust="spacingAndGlyphs">shaded</text>
<text x="701.54" y="123.60" font-size="12.6" font-weight="normal" fill="#333" textLength="35.43" lengthAdjust="spacingAndGlyphs">region</text>
<text x="740.27" y="123.60" font-size="12.6" font-weight="normal" fill="#333" textLength="48.59" lengthAdjust="spacingAndGlyphs">indicates</text>
<text x="791.34" y="123.60" font-size="12.6" font-weight="normal" fill="#333" textLength="18.51" lengthAdjust="spacingAndGlyphs">the</text>
<text x="594.29" y="140.60" font-size="12.6" font-weight="normal" fill="#333" textLength="41.61" lengthAdjust="spacingAndGlyphs">coating</text>
<text x="638.40" y="140.60" font-size="12.6" font-weight="normal" fill="#333" textLength="36.92" lengthAdjust="spacingAndGlyphs">design</text>
<text x="678.60" y="140.60" font-size="12.6" font-weight="normal" fill="#333" textLength="59.31" lengthAdjust="spacingAndGlyphs">wavelengh</text>
<text x="740.84" y="140.60" font-size="12.6" font-weight="normal" fill="#333" textLength="36.30" lengthAdjust="spacingAndGlyphs">range,</text>
<text x="779.60" y="140.60" font-size="12.6" font-weight="normal" fill="#333" textLength="22.97" lengthAdjust="spacingAndGlyphs">with</text>
<text x="805.04" y="140.60" font-size="12.6" font-weight="normal" fill="#333" textLength="18.51" lengthAdjust="spacingAndGlyphs">the</text>
<text x="645.70" y="157.40" font-size="12.6" font-weight="normal" fill="#333" textLength="48.66" lengthAdjust="spacingAndGlyphs">following</text>
<text x="697.65" y="157.40" font-size="12.6" font-weight="normal" fill="#333" textLength="72.00" lengthAdjust="spacingAndGlyphs">specification:</text>
<text x="595.30" y="205.90" font-size="12.6" font-weight="normal" fill="#333" textLength="26.56" lengthAdjust="spacingAndGlyphs">Data</text>
<text x="625.31" y="205.90" font-size="12.6" font-weight="normal" fill="#333" textLength="40.17" lengthAdjust="spacingAndGlyphs">outside</text>
<text x="669.17" y="205.90" font-size="12.6" font-weight="normal" fill="#333" textLength="17.96" lengthAdjust="spacingAndGlyphs">this</text>
<text x="689.93" y="205.90" font-size="12.6" font-weight="normal" fill="#333" textLength="33.15" lengthAdjust="spacingAndGlyphs">range</text>
<text x="725.82" y="205.90" font-size="12.6" font-weight="normal" fill="#333" textLength="8.31" lengthAdjust="spacingAndGlyphs">is</text>
<text x="736.86" y="205.90" font-size="12.6" font-weight="normal" fill="#333" textLength="17.25" lengthAdjust="spacingAndGlyphs">not</text>
<text x="757.19" y="205.90" font-size="12.6" font-weight="normal" fill="#333" textLength="64.86" lengthAdjust="spacingAndGlyphs">guaranteed</text>
<text x="641.27" y="222.80" font-size="12.6" font-weight="normal" fill="#333" textLength="22.13" lengthAdjust="spacingAndGlyphs">and</text>
<text x="666.22" y="222.80" font-size="12.6" font-weight="normal" fill="#333" textLength="8.31" lengthAdjust="spacingAndGlyphs">is</text>
<text x="678.10" y="222.80" font-size="12.6" font-weight="normal" fill="#333" textLength="14.70" lengthAdjust="spacingAndGlyphs">for</text>
<text x="695.25" y="222.80" font-size="12.6" font-weight="normal" fill="#333" textLength="53.01" lengthAdjust="spacingAndGlyphs">reference</text>
<text x="751.00" y="222.80" font-size="12.6" font-weight="normal" fill="#333" textLength="25.56" lengthAdjust="spacingAndGlyphs">only.</text>
<text x="630.23" y="246.50" font-size="12.6" font-weight="normal" fill="#2d5aa6" textLength="25.72" lengthAdjust="spacingAndGlyphs">Click</text>
<text x="658.72" y="246.50" font-size="12.6" font-weight="normal" fill="#2d5aa6" textLength="26.71" lengthAdjust="spacingAndGlyphs">Here</text>
<text x="688.45" y="246.50" font-size="12.6" font-weight="normal" fill="#2d5aa6" textLength="10.46" lengthAdjust="spacingAndGlyphs">to</text>
<text x="701.29" y="246.50" font-size="12.6" font-weight="normal" fill="#2d5aa6" textLength="56.69" lengthAdjust="spacingAndGlyphs">Download</text>
<text x="760.39" y="246.50" font-size="12.6" font-weight="normal" fill="#2d5aa6" textLength="26.87" lengthAdjust="spacingAndGlyphs">Data</text>
<text x="595.06" y="345.70" font-size="12.6" font-weight="normal" fill="#333" textLength="37.72" lengthAdjust="spacingAndGlyphs">Typical</text>
<text x="635.26" y="345.70" font-size="12.6" font-weight="normal" fill="#333" textLength="68.20" lengthAdjust="spacingAndGlyphs">transmission</text>
<text x="706.09" y="345.70" font-size="12.6" font-weight="normal" fill="#333" textLength="10.73" lengthAdjust="spacingAndGlyphs">of</text>
<text x="719.72" y="345.70" font-size="12.6" font-weight="normal" fill="#333" textLength="6.80" lengthAdjust="spacingAndGlyphs">a</text>
<text x="729.39" y="345.70" font-size="12.6" font-weight="normal" fill="#333" textLength="28.68" lengthAdjust="spacingAndGlyphs">3mm</text>
<text x="760.96" y="345.70" font-size="12.6" font-weight="normal" fill="#333" textLength="24.65" lengthAdjust="spacingAndGlyphs">thick</text>
<text x="788.65" y="345.70" font-size="12.6" font-weight="normal" fill="#333" textLength="35.32" lengthAdjust="spacingAndGlyphs">N-BK7</text>
<text x="590.40" y="362.60" font-size="12.6" font-weight="normal" fill="#333" textLength="41.70" lengthAdjust="spacingAndGlyphs">window</text>
<text x="636.40" y="362.60" font-size="12.6" font-weight="normal" fill="#333" textLength="22.46" lengthAdjust="spacingAndGlyphs">with</text>
<text x="662.20" y="362.60" font-size="12.6" font-weight="normal" fill="#333" textLength="41.01" lengthAdjust="spacingAndGlyphs">VIS-NIR</text>
<text x="705.77" y="362.60" font-size="12.6" font-weight="normal" fill="#333" textLength="77.02" lengthAdjust="spacingAndGlyphs">(400-1000nm)</text>
<text x="785.29" y="362.60" font-size="12.6" font-weight="normal" fill="#333" textLength="41.61" lengthAdjust="spacingAndGlyphs">coating</text>
<text x="682.87" y="379.50" font-size="12.6" font-weight="normal" fill="#333" textLength="11.25" lengthAdjust="spacingAndGlyphs">at</text>
<text x="696.93" y="379.50" font-size="12.6" font-weight="normal" fill="#333" textLength="11.43" lengthAdjust="spacingAndGlyphs">0°</text>
<text x="711.50" y="379.50" font-size="12.6" font-weight="normal" fill="#333" textLength="23.84" lengthAdjust="spacingAndGlyphs">AOI.</text>
<text x="609.17" y="403.70" font-size="12.6" font-weight="normal" fill="#333" textLength="19.53" lengthAdjust="spacingAndGlyphs">The</text>
<text x="631.34" y="403.70" font-size="12.6" font-weight="normal" fill="#333" textLength="24.13" lengthAdjust="spacingAndGlyphs">blue</text>
<text x="658.55" y="403.70" font-size="12.6" font-weight="normal" fill="#333" textLength="40.66" lengthAdjust="spacingAndGlyphs">shaded</text>
<text x="701.54" y="403.70" font-size="12.6" font-weight="normal" fill="#333" textLength="35.43" lengthAdjust="spacingAndGlyphs">region</text>
<text x="740.27" y="403.70" font-size="12.6" font-weight="normal" fill="#333" textLength="48.59" lengthAdjust="spacingAndGlyphs">indicates</text>
<text x="791.34" y="403.70" font-size="12.6" font-weight="normal" fill="#333" textLength="18.51" lengthAdjust="spacingAndGlyphs">the</text>
<text x="594.29" y="420.50" font-size="12.6" font-weight="normal" fill="#333" textLength="41.61" lengthAdjust="spacingAndGlyphs">coating</text>
<text x="638.40" y="420.50" font-size="12.6" font-weight="normal" fill="#333" textLength="36.92" lengthAdjust="spacingAndGlyphs">design</text>
<text x="678.60" y="420.50" font-size="12.6" font-weight="normal" fill="#333" textLength="59.31" lengthAdjust="spacingAndGlyphs">wavelengh</text>
<text x="740.84" y="420.50" font-size="12.6" font-weight="normal" fill="#333" textLength="36.30" lengthAdjust="spacingAndGlyphs">range,</text>
<text x="779.60" y="420.50" font-size="12.6" font-weight="normal" fill="#333" textLength="22.97" lengthAdjust="spacingAndGlyphs">with</text>
<text x="805.04" y="420.50" font-size="12.6" font-weight="normal" fill="#333" textLength="18.51" lengthAdjust="spacingAndGlyphs">the</text>
<text x="645.70" y="437.30" font-size="12.6" font-weight="normal" fill="#333" textLength="48.66" lengthAdjust="spacingAndGlyphs">following</text>
<text x="697.65" y="437.30" font-size="12.6" font-weight="normal" fill="#333" textLength="72.00" lengthAdjust="spacingAndGlyphs">specification:</text>
<text x="595.30" y="536.70" font-size="12.6" font-weight="normal" fill="#333" textLength="26.56" lengthAdjust="spacingAndGlyphs">Data</text>
<text x="625.31" y="536.70" font-size="12.6" font-weight="normal" fill="#333" textLength="40.17" lengthAdjust="spacingAndGlyphs">outside</text>
<text x="669.17" y="536.70" font-size="12.6" font-weight="normal" fill="#333" textLength="17.96" lengthAdjust="spacingAndGlyphs">this</text>
<text x="689.93" y="536.70" font-size="12.6" font-weight="normal" fill="#333" textLength="33.15" lengthAdjust="spacingAndGlyphs">range</text>
<text x="725.82" y="536.70" font-size="12.6" font-weight="normal" fill="#333" textLength="8.31" lengthAdjust="spacingAndGlyphs">is</text>
<text x="736.86" y="536.70" font-size="12.6" font-weight="normal" fill="#333" textLength="17.25" lengthAdjust="spacingAndGlyphs">not</text>
<text x="757.19" y="536.70" font-size="12.6" font-weight="normal" fill="#333" textLength="64.86" lengthAdjust="spacingAndGlyphs">guaranteed</text>
<text x="641.27" y="553.60" font-size="12.6" font-weight="normal" fill="#333" textLength="22.13" lengthAdjust="spacingAndGlyphs">and</text>
<text x="666.22" y="553.60" font-size="12.6" font-weight="normal" fill="#333" textLength="8.31" lengthAdjust="spacingAndGlyphs">is</text>
<text x="678.10" y="553.60" font-size="12.6" font-weight="normal" fill="#333" textLength="14.70" lengthAdjust="spacingAndGlyphs">for</text>
<text x="695.25" y="553.60" font-size="12.6" font-weight="normal" fill="#333" textLength="53.01" lengthAdjust="spacingAndGlyphs">reference</text>
<text x="751.00" y="553.60" font-size="12.6" font-weight="normal" fill="#333" textLength="25.56" lengthAdjust="spacingAndGlyphs">only.</text>
<text x="630.23" y="577.70" font-size="12.6" font-weight="normal" fill="#2d5aa6" textLength="25.72" lengthAdjust="spacingAndGlyphs">Click</text>
<text x="658.72" y="577.70" font-size="12.6" font-weight="normal" fill="#2d5aa6" textLength="26.71" lengthAdjust="spacingAndGlyphs">Here</text>
<text x="688.45" y="577.70" font-size="12.6" font-weight="normal" fill="#2d5aa6" textLength="10.46" lengthAdjust="spacingAndGlyphs">to</text>
<text x="701.29" y="577.70" font-size="12.6" font-weight="normal" fill="#2d5aa6" textLength="56.69" lengthAdjust="spacingAndGlyphs">Download</text>
<text x="760.39" y="577.70" font-size="12.6" font-weight="normal" fill="#2d5aa6" textLength="26.87" lengthAdjust="spacingAndGlyphs">Data</text>
<text x="682.47" y="461.70" font-size="12.6" font-weight="normal" fill="#333" textLength="30.43" lengthAdjust="spacingAndGlyphs">0.25%</text>
<text x="714.87" y="461.70" font-size="12.6" font-weight="normal" fill="#333" textLength="13.21" lengthAdjust="spacingAndGlyphs">@</text>
<text x="730.49" y="461.70" font-size="12.6" font-weight="normal" fill="#333" textLength="39.50" lengthAdjust="spacingAndGlyphs">880nm</text>
<text x="667.72" y="478.50" font-size="12.6" font-weight="normal" fill="#333" textLength="27.84" lengthAdjust="spacingAndGlyphs">1.25%</text>
<text x="697.98" y="478.50" font-size="12.6" font-weight="normal" fill="#333" textLength="13.09" lengthAdjust="spacingAndGlyphs">@</text>
<text x="713.56" y="478.50" font-size="12.6" font-weight="normal" fill="#333" textLength="20.55" lengthAdjust="spacingAndGlyphs">400</text>
<text x="737.48" y="478.50" font-size="12.6" font-weight="normal" fill="#333" textLength="6.08" lengthAdjust="spacingAndGlyphs">-</text>
<text x="746.20" y="478.50" font-size="12.6" font-weight="normal" fill="#333" textLength="38.15" lengthAdjust="spacingAndGlyphs">870nm</text>
<text x="665.64" y="494.80" font-size="12.6" font-weight="normal" fill="#333" textLength="27.32" lengthAdjust="spacingAndGlyphs">1.25%</text>
<text x="695.37" y="494.80" font-size="12.6" font-weight="normal" fill="#333" textLength="13.21" lengthAdjust="spacingAndGlyphs">@</text>
<text x="710.28" y="494.80" font-size="12.6" font-weight="normal" fill="#333" textLength="21.65" lengthAdjust="spacingAndGlyphs">890</text>
<text x="735.45" y="494.80" font-size="12.6" font-weight="normal" fill="#333" textLength="5.43" lengthAdjust="spacingAndGlyphs">-</text>
<text x="743.65" y="494.80" font-size="12.6" font-weight="normal" fill="#333" textLength="43.17" lengthAdjust="spacingAndGlyphs">1000nm</text>
<text x="670.28" y="181.80" font-size="12.6" font-weight="normal" fill="#333" textLength="24.01" lengthAdjust="spacingAndGlyphs">0.5%</text>
<text x="696.37" y="181.80" font-size="12.6" font-weight="normal" fill="#333" textLength="13.21" lengthAdjust="spacingAndGlyphs">@</text>
<text x="711.84" y="181.80" font-size="12.6" font-weight="normal" fill="#333" textLength="19.33" lengthAdjust="spacingAndGlyphs">350</text>
<text x="734.00" y="181.80" font-size="12.6" font-weight="normal" fill="#333" textLength="5.04" lengthAdjust="spacingAndGlyphs">-</text>
<text x="743.80" y="181.80" font-size="12.6" font-weight="normal" fill="#333" textLength="38.36" lengthAdjust="spacingAndGlyphs">700nm</text>
<text x="635.83" y="181.80" font-size="12.6" font-weight="normal" fill="#333" textLength="7.04" lengthAdjust="spacingAndGlyphs">R</text>
<text x="643.47" y="183.70" font-size="10.0" font-weight="normal" fill="#333" textLength="14.80" lengthAdjust="spacingAndGlyphs">avg</text>
<text x="660.79" y="180.80" font-size="9.7" font-weight="normal" fill="#333" textLength="6.51" lengthAdjust="spacingAndGlyphs">≤</text>
<text x="648.33" y="461.70" font-size="12.6" font-weight="normal" fill="#333" textLength="7.04" lengthAdjust="spacingAndGlyphs">R</text>
<text x="655.97" y="463.60" font-size="10.0" font-weight="normal" fill="#333" textLength="15.08" lengthAdjust="spacingAndGlyphs">abs</text>
<text x="672.78" y="460.70" font-size="9.7" font-weight="normal" fill="#333" textLength="6.73" lengthAdjust="spacingAndGlyphs">≤</text>
<text x="633.73" y="478.50" font-size="12.6" font-weight="normal" fill="#333" textLength="7.04" lengthAdjust="spacingAndGlyphs">R</text>
<text x="641.37" y="480.40" font-size="10.0" font-weight="normal" fill="#333" textLength="15.01" lengthAdjust="spacingAndGlyphs">avg</text>
<text x="658.42" y="477.50" font-size="9.7" font-weight="normal" fill="#333" textLength="5.95" lengthAdjust="spacingAndGlyphs">≤</text>
<text x="631.33" y="494.80" font-size="12.6" font-weight="normal" fill="#333" textLength="7.04" lengthAdjust="spacingAndGlyphs">R</text>
<text x="638.97" y="496.70" font-size="10.0" font-weight="normal" fill="#333" textLength="15.01" lengthAdjust="spacingAndGlyphs">avg</text>
<text x="655.91" y="493.80" font-size="9.7" font-weight="normal" fill="#333" textLength="6.28" lengthAdjust="spacingAndGlyphs">≤</text>
<path d="M780.00 549.00 L781.50 550.30 M779.50 553.30 L781.00 554.60 M779.60 563.50 L782.00 557.80 M785.80 547.30 L785.20 548.80 M783.60 549.00 L788.00 549.00 L788.00 555.00 L783.60 555.00 L783.60 549.00 M783.60 552.00 L788.00 552.00 M785.80 555.40 L786.00 556.60 M783.00 557.00 L788.60 557.00 M785.00 557.00 L784.60 560.00 L783.40 563.60 M785.00 559.20 L788.00 559.20 L787.60 563.60 L786.60 563.00 M791.20 547.30 L790.00 551.50 M790.40 550.60 L795.80 550.60 M794.20 550.80 L792.50 557.00 L789.40 563.60 M791.30 554.50 L793.20 559.00 L796.00 563.60 M799.60 549.00 L801.10 550.30 M799.00 553.50 L800.50 554.80 M799.10 563.80 L801.60 558.20 M813.90 547.50 L804.40 549.60 M803.40 553.20 L816.20 553.20 M809.70 549.20 L809.70 557.20 M805.00 557.20 L814.60 557.20 L814.60 564.20 L805.00 564.20 L805.00 557.20 M824.60 548.50 L826.50 557.00" fill="none" stroke="#ababab" stroke-width="1.15" stroke-linecap="round" stroke-linejoin="round"/>
<path d="M778.50 575.50 L783.80 575.50 M781.00 573.30 L780.00 579.50 L783.50 579.50 M781.60 577.00 L781.60 586.00 M778.60 582.60 L784.00 581.60 M785.00 576.00 L791.50 576.00 M788.80 573.40 L787.40 580.00 M784.60 579.60 L792.00 579.60 M787.00 580.00 L791.00 582.20 L788.50 585.60 M787.60 583.80 L789.50 585.80 M794.10 574.00 L802.60 574.00 M797.60 574.20 L795.10 578.50 L801.60 578.20 M799.60 576.50 L801.60 579.00 M798.20 579.00 L798.20 585.00 M795.10 581.60 L801.60 581.60 M794.00 585.30 L802.80 585.30 M803.80 574.80 L803.80 583.00 M806.80 573.30 L806.80 586.00 L805.40 585.60 M809.50 574.00 L809.20 576.50 M811.80 574.00 L811.50 576.50 M815.30 573.80 L816.70 575.20 M814.90 577.60 L816.50 577.60 L816.50 584.50 L817.90 583.20 M820.20 573.80 L819.90 577.50 L818.70 579.00 M820.20 573.80 L824.20 573.80 L824.20 577.00 L826.00 577.50 M819.30 579.60 L825.20 579.60 L822.70 583.50 L819.00 586.00 M821.00 581.30 L826.00 586.00" fill="none" stroke="#b5b5b5" stroke-width="1.05" stroke-linecap="round" stroke-linejoin="round"/>
</svg>
</body></html>
